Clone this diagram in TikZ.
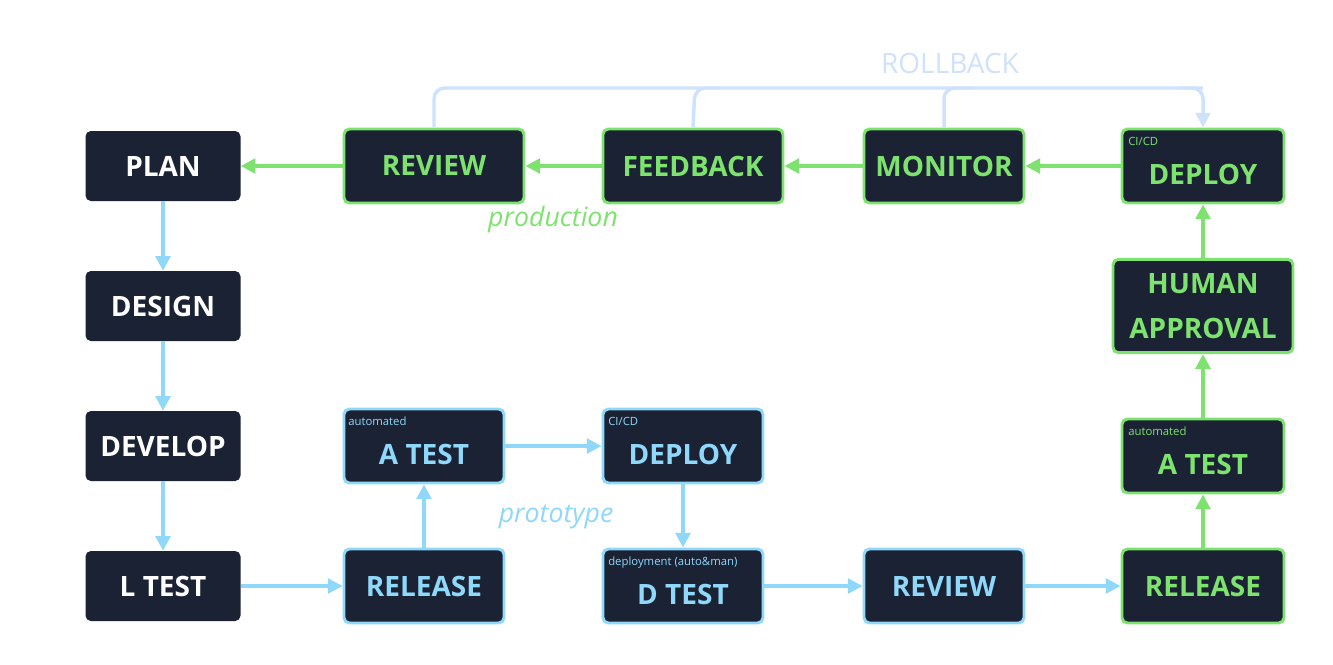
\documentclass[tikz,border=0pt]{standalone}
\usepackage{fontspec}
\setmainfont{Open Sans}
\usetikzlibrary{arrows.meta}
\definecolor{dk}{HTML}{1A2234}
\definecolor{gr}{HTML}{7DE36E}
\definecolor{bl}{HTML}{8FD8FA}
\definecolor{rb}{HTML}{CFE2FC}
\begin{document}
\begin{tikzpicture}[x=0.75pt,y=-0.75pt,
 base/.style={fill=dk,rounded corners=4pt,minimum width=#1*0.75pt,align=center,inner sep=0pt,
   font=\fontsize{21}{26}\selectfont\bfseries},
 plain/.style={base=155,minimum height=52.5pt,text=white},
 gn/.style={base=#1,minimum height=55.5pt,draw=gr,line width=2.2pt,text=gr},
 bn/.style={base=#1,minimum height=55.5pt,draw=bl,line width=2.2pt,text=bl},
 ga/.style={draw=gr,line width=2.6pt,-{Triangle[length=11pt,width=11pt]}},
 ba/.style={draw=bl,line width=2.6pt,-{Triangle[length=11pt,width=11pt]}},
 sm/.style={font=\fontsize{8.5}{10}\selectfont,anchor=north west,inner sep=0pt}]
\useasboundingbox (0,0) rectangle (1333,664);
\node[plain] (plan) at (163,166) {PLAN};
\node[plain] (design) at (163,306) {DESIGN};
\node[plain] (develop) at (163,446) {DEVELOP};
\node[plain] (ltest) at (163,586) {L TEST};
\node[gn=180] (rev) at (434,166) {REVIEW};
\node[gn=180] (fb) at (693,166) {FEEDBACK};
\node[gn=160] (mon) at (944,166) {MONITOR};
\node[gn=162] (gdep) at (1203,166) {\rule{0pt}{10pt}\\[-8pt]DEPLOY};
\node[gn=180,minimum height=70pt,font=\fontsize{21}{34}\selectfont\bfseries] (hum) at (1203,306) {HUMAN\\APPROVAL};
\node[gn=162] (gat) at (1203,456) {\rule{0pt}{10pt}\\[-8pt]A TEST};
\node[gn=162] (grel) at (1203,586) {RELEASE};
\node[bn=160] (brev) at (944,586) {REVIEW};
\node[bn=160] (dt) at (683,586) {\rule{0pt}{10pt}\\[-8pt]D TEST};
\node[bn=160] (bdep) at (683,446) {\rule{0pt}{10pt}\\[-8pt]DEPLOY};
\node[bn=160] (bat) at (424,446) {\rule{0pt}{10pt}\\[-8pt]A TEST};
\node[bn=160] (brel) at (424,586) {RELEASE};
\node[sm,text=gr] (s1) at (1128,137) {CI/CD};
\node[sm,text=gr] (s2) at (1128,427) {automated};
\node[sm,text=bl] (s3) at (608,417) {CI/CD};
\node[sm,text=bl] (s4) at (348,417) {automated};
\node[sm,text=bl] (s5) at (608,557) {deployment (auto\&man)};
\draw[ga] (rev) -- (plan);
\draw[ga] (fb) -- (rev);
\draw[ga] (mon) -- (fb);
\draw[ga] (gdep) -- (mon);
\draw[ga] (grel) -- (gat);
\draw[ga] (gat) -- (hum);
\draw[ga] (hum) -- (gdep);
\draw[ba] (plan) -- (design);
\draw[ba] (design) -- (develop);
\draw[ba] (develop) -- (ltest);
\draw[ba] (ltest) -- (brel);
\draw[ba] (brel) -- (bat);
\draw[ba] (bat) -- (bdep);
\draw[ba] (bdep) -- (dt);
\draw[ba] (dt) -- (brev);
\draw[ba] (brev) -- (grel);
\draw[rb,line width=2.6pt,rounded corners=8pt] (rev.north) -- (434,88) -- (1203,88);
\draw[rb,line width=2.6pt,rounded corners=8pt] (fb.north) -- (695,88) -- (720,88);
\draw[rb,line width=2.6pt,rounded corners=8pt] (mon.north) -- (944,88) -- (970,88);
\draw[rb,line width=2.6pt,rounded corners=8pt,-{Triangle[length=11pt,width=11pt]}] (1180,88) -- (1203,88) -- (gdep.north);
\node[text=rb,font=\fontsize{21}{24}\selectfont] (roll) at (950,63) {ROLLBACK};
\node[text=gr,font=\fontsize{20}{24}\selectfont\itshape] (prod) at (553,220) {production};
\node[text=bl,font=\fontsize{20}{24}\selectfont\itshape] (proto) at (556,517) {prototype};
\end{tikzpicture}
\end{document}
